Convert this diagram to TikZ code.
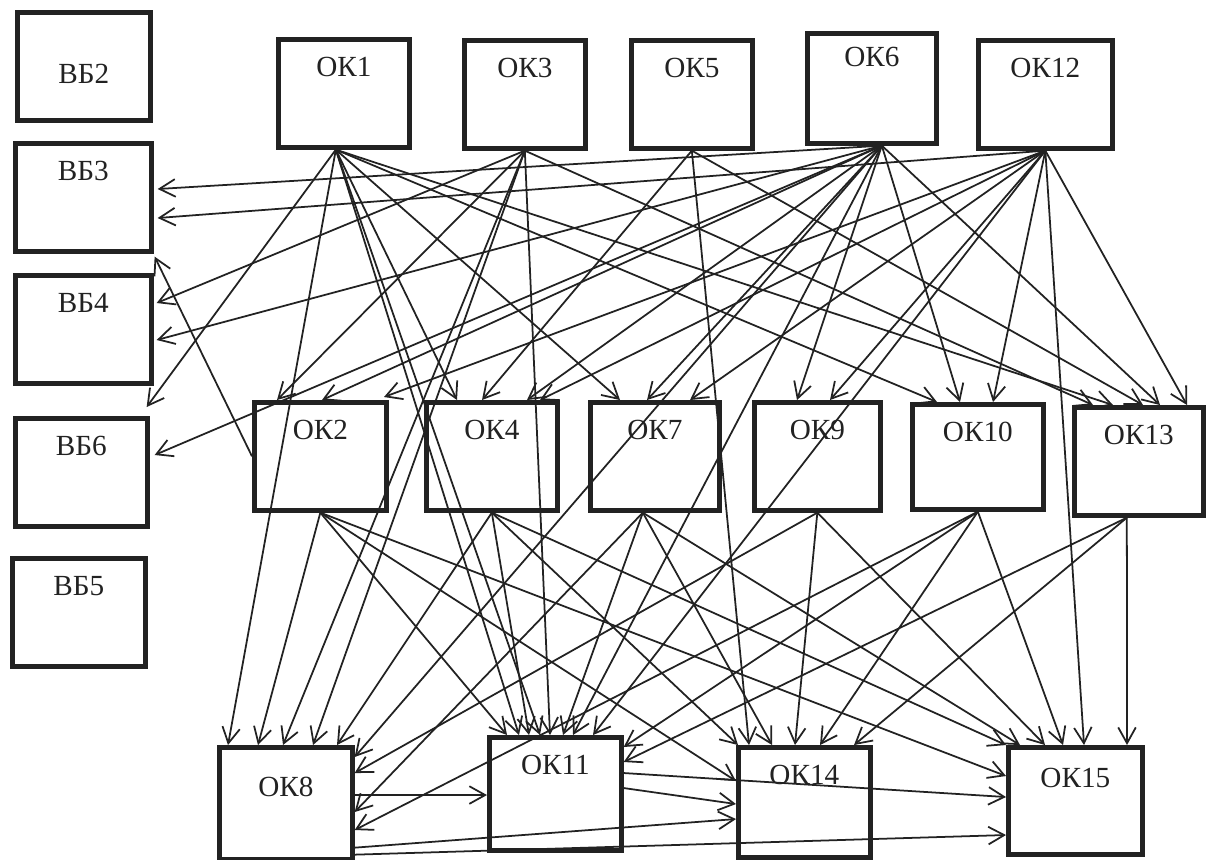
\documentclass[tikz,border=0pt]{standalone}
\usepackage{fontspec}
\setmainfont{Liberation Serif}
\usetikzlibrary{calc,arrows.meta}
\definecolor{ink}{HTML}{222222}
\definecolor{paper}{HTML}{FFFFFF}
\tikzset{
  box/.style={
    draw=ink,
    line width=1.3pt,
    anchor=north west,
    inner sep=0pt,
    minimum width=1.31cm,
    text height=0.37cm,
    text depth=0.71cm,
    font=\fontsize{8.3}{10}\selectfont,
    text=ink
  },
  edge/.style={draw=ink, line width=0.5pt, -{Straight Barb[length=4.5pt,width=5pt]}}
}
\begin{document}
\begin{tikzpicture}[x=0.01cm, y=-0.01cm]
  \useasboundingbox[fill=paper] (0,0) rectangle (1207,859);

  % left column
  \node[box, minimum width=1.33cm, text height=0.71cm, text depth=0.37cm] (vb2) at (15,10) {ВБ2};
  \node[box, minimum width=1.36cm] (vb3) at (13,141) {ВБ3};
  \node[box, minimum width=1.36cm] (vb4) at (13,273) {ВБ4};
  \node[box, minimum width=1.32cm] (vb6) at (13,416) {ВБ6};
  \node[box, minimum width=1.33cm] (vb5) at (10,556) {ВБ5};

  % top row
  \node[box] (ok1) at (276,37) {ОК1};
  \node[box, minimum width=1.21cm] (ok3) at (462,38) {ОК3};
  \node[box, minimum width=1.21cm] (ok5) at (629,38) {ОК5};
  \node[box, minimum width=1.29cm, text height=0.33cm, text depth=0.77cm] (ok6) at (805,31) {ОК6};
  \node[box, minimum width=1.34cm] (ok12) at (976,38) {ОК12};

  % middle row
  \node[box, minimum width=1.32cm] (ok2) at (252,400) {ОК2};
  \node[box] (ok4) at (424,400) {ОК4};
  \node[box, minimum width=1.29cm] (ok7) at (588,400) {ОК7};
  \node[box, minimum width=1.26cm] (ok9) at (752,400) {ОК9};
  \node[box, text depth=0.68cm] (ok10) at (910,402) {ОК10};
  \node[box, minimum width=1.29cm] (ok13) at (1072,405) {ОК13};

  % bottom row
  \node[box, minimum width=1.33cm, text height=0.49cm, text depth=0.63cm] (ok8) at (217,745) {ОК8};
  \node[box, minimum width=1.32cm, text depth=0.76cm] (ok11) at (487,735) {ОК11};
  \node[box, minimum width=1.32cm, text depth=0.73cm] (ok14) at (736,745) {ОК14};
  \node[box, minimum width=1.34cm, text height=0.40cm, text depth=0.67cm] (ok15) at (1006,745) {ОК15};

  % from OK1
  \draw[edge] ($(ok1.south)+(-8,0)$) -- ($(vb6.north east)+(-3,-9)$);
  \draw[edge] ($(ok1.south)+(-8,0)$) -- ($(ok8.north west)+(11,0)$);
  \draw[edge] ($(ok1.south)+(-8,0)$) -- ($(ok4.north west)+(33,0)$);
  \draw[edge] ($(ok1.south)+(-8,0)$) -- ($(ok11.north west)+(32,0)$);
  \draw[edge] ($(ok1.south)+(-8,0)$) -- ($(ok11.north west)+(53,0)$);
  \draw[edge] ($(ok1.south)+(-8,0)$) -- ($(ok7.north west)+(32,0)$);
  \draw[edge] ($(ok1.south)+(-8,0)$) -- ($(ok10.north west)+(27,0)$);
  \draw[edge] ($(ok1.south)+(-8,0)$) -- ($(ok13.north west)+(41,0)$);

  % from OK3
  \draw[edge] (ok3.south) -- ($(vb4.north east)+(3,30)$);
  \draw[edge] (ok3.south) -- ($(ok2.north west)+(25,0)$);
  \draw[edge] (ok3.south) -- ($(ok8.north west)+(66,0)$);
  \draw[edge] (ok3.south) -- ($(ok8.north west)+(96,0)$);
  \draw[edge] (ok3.south) -- ($(ok11.north west)+(63,0)$);
  \draw[edge] (ok3.south) -- ($(ok13.north west)+(21,0)$);

  % from OK5
  \draw[edge] (ok5.south) -- ($(ok4.north west)+(58,0)$);
  \draw[edge] (ok5.south) -- ($(ok14.north west)+(13,0)$);
  \draw[edge] (ok5.south) -- ($(ok13.north west)+(71,0)$);

  % from OK6
  \draw[edge] ($(ok6.south)+(10,0)$) -- ($(vb3.north east)+(4,48)$);
  \draw[edge] ($(ok6.south)+(10,0)$) -- ($(vb4.north east)+(3,67)$);
  \draw[edge] ($(ok6.south)+(10,0)$) -- ($(vb6.north east)+(5,39)$);
  \draw[edge] ($(ok6.south)+(10,0)$) -- ($(ok2.north west)+(70,0)$);
  \draw[edge] ($(ok6.south)+(10,0)$) -- ($(ok4.north west)+(103,0)$);
  \draw[edge] ($(ok6.south)+(10,0)$) -- ($(ok7.north west)+(59,0)$);
  \draw[edge] ($(ok6.south)+(10,0)$) -- ($(ok9.north west)+(45,0)$);
  \draw[edge] ($(ok6.south)+(10,0)$) -- ($(ok10.north west)+(50,0)$);
  \draw[edge] ($(ok6.south)+(10,0)$) -- ($(ok13.north west)+(88,0)$);
  \draw[edge] ($(ok6.south)+(10,0)$) -- ($(ok8.north east)+(0,12)$);
  \draw[edge] ($(ok6.south)+(10,0)$) -- ($(ok11.north west)+(86,0)$);

  % from OK12
  \draw[edge] (ok12.south) -- ($(vb3.north east)+(4,77)$);
  \draw[edge] (ok12.south) -- ($(ok2.north west)+(132,-3)$);
  \draw[edge] (ok12.south) -- ($(ok4.north west)+(116,0)$);
  \draw[edge] (ok12.south) -- ($(ok7.north west)+(102,0)$);
  \draw[edge] (ok12.south) -- ($(ok9.north west)+(78,0)$);
  \draw[edge] (ok12.south) -- ($(ok10.north west)+(83,0)$);
  \draw[edge] (ok12.south) -- ($(ok13.north west)+(115,0)$);
  \draw[edge] (ok12.south) -- ($(ok11.north west)+(106,0)$);
  \draw[edge] (ok12.south) -- ($(ok15.north west)+(78,0)$);

  % middle row out
  \draw[edge] (ok2.west) -- ($(vb3.south east)+(1,3)$);
  \draw[edge] (ok2.south) -- ($(ok8.north west)+(41,0)$);
  \draw[edge] (ok2.south) -- ($(ok11.north west)+(20,0)$);
  \draw[edge] (ok2.south) -- ($(ok14.north west)+(0,36)$);
  \draw[edge] (ok2.south) -- ($(ok15.north west)+(0,31)$);

  \draw[edge] (ok4.south) -- ($(ok8.north west)+(120,0)$);
  \draw[edge] (ok4.south) -- ($(ok11.north west)+(42,0)$);
  \draw[edge] (ok4.south) -- ($(ok14.north west)+(2,0)$);
  \draw[edge] (ok4.south) -- ($(ok15.north west)+(0,0)$);

  \draw[edge] ($(ok7.south)+(-12,0)$) -- ($(ok8.north east)+(0,67)$);
  \draw[edge] ($(ok7.south)+(-12,0)$) -- ($(ok11.north west)+(76,0)$);
  \draw[edge] ($(ok7.south)+(-12,0)$) -- ($(ok14.north west)+(36,0)$);
  \draw[edge] ($(ok7.south)+(-12,0)$) -- ($(ok15.north west)+(14,0)$);

  \draw[edge] (ok9.south) -- ($(ok8.north east)+(0,28)$);
  \draw[edge] (ok9.south) -- ($(ok14.north west)+(59,0)$);
  \draw[edge] (ok9.south) -- ($(ok15.north west)+(39,0)$);

  \draw[edge] (ok10.south) -- ($(ok8.north east)+(0,85)$);
  \draw[edge] (ok10.south) -- ($(ok11.north east)+(0,12)$);
  \draw[edge] (ok10.south) -- ($(ok14.north west)+(84,0)$);
  \draw[edge] (ok10.south) -- ($(ok15.north west)+(57,0)$);

  \draw[edge] ($(ok13.south)+(-12,0)$) -- ($(ok11.north east)+(0,27)$);
  \draw[edge] ($(ok13.south)+(-12,0)$) -- ($(ok14.north west)+(118,0)$);
  \draw[edge] ($(ok13.south)+(-12,0)$) -- ($(ok15.north west)+(121,0)$);

  % bottom row
  \draw[edge] ($(ok8.north east)+(0,50)$) -- ($(ok11.north west)+(0,60)$);
  \draw[edge] ($(ok8.south east)+(0,-14)$) -- ($(ok14.north west)+(0,74)$);
  \draw[edge] ($(ok8.south east)+(0,-7)$) -- ($(ok15.north west)+(0,90)$);
  \draw[edge] ($(ok11.north east)+(0,38)$) -- ($(ok15.north west)+(0,52)$);
  \draw[edge] ($(ok11.north east)+(0,53)$) -- ($(ok14.north west)+(0,59)$);
\end{tikzpicture}
\end{document}
